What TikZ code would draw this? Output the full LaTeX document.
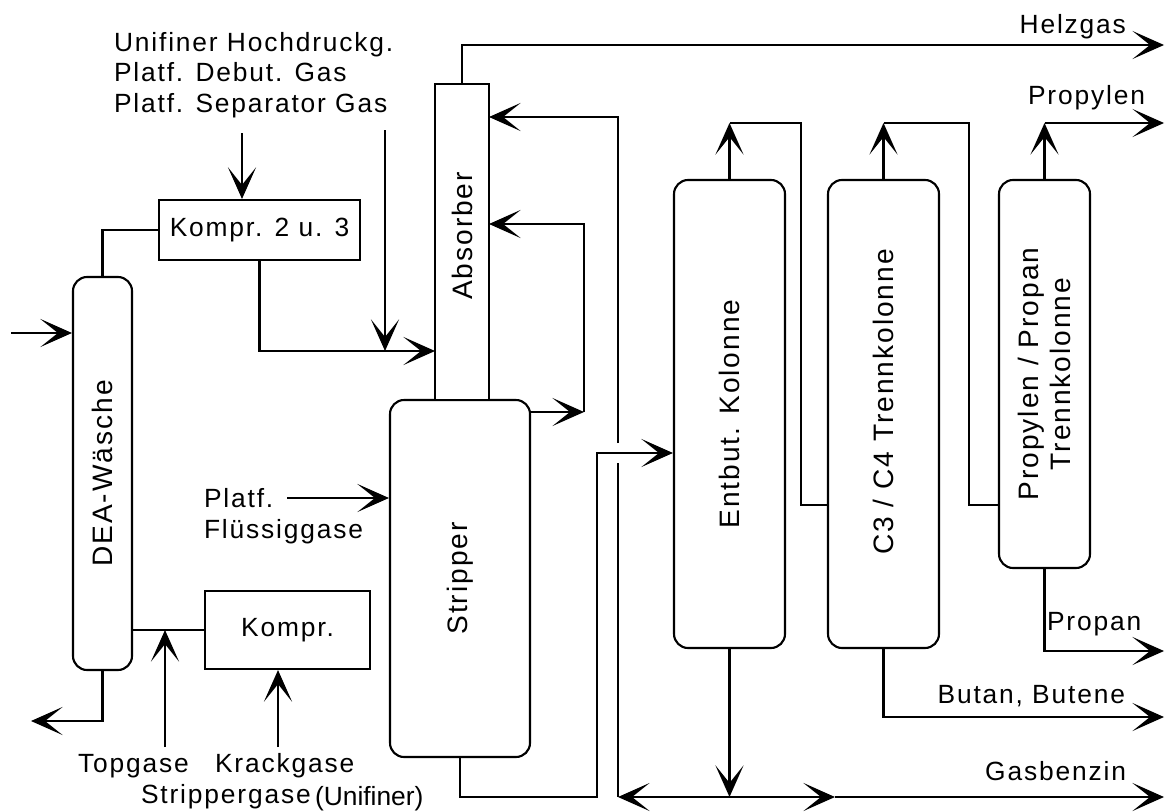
\documentclass[tikz,border=0pt]{standalone}
\usepackage{fontspec}
\setmainfont{Liberation Sans}[LetterSpace=7]
\newfontfamily\plainsans{Liberation Sans}
\usetikzlibrary{arrows.meta}

\begin{document}
\begin{tikzpicture}[x=0.02cm,y=-0.02cm,line width=1.2pt,
  >={Stealth[length=18pt,width=16pt,inset=10pt]},
  column/.style={draw,rounded corners=8pt,inner sep=0pt},
  kbox/.style={draw,inner sep=0pt,font=\fontsize{15}{17}\selectfont},
  lbl/.style={inner sep=0pt,font=\fontsize{15}{17.5}\selectfont},
  collbl/.style={inner sep=0pt,rotate=90,align=center,font=\fontsize{16}{18}\selectfont}]
 \def\px{0.02cm} % ein Bildpunkt
 \def\xr{1164}   % rechter Rand der Abgaenge
 \useasboundingbox (0,0) rectangle (1169,811);
% Apparate
 \node[column,minimum width=59*\px,minimum height=393*\px] (dea) at (102.5,473.5) {};
 \node[kbox,minimum width=201*\px,minimum height=60*\px] (k2) at (259.5,230) {Kompr. 2 u. 3};
 \node[kbox,minimum width=165*\px,minimum height=78*\px] (kp) at (287.5,630) {Kompr.};
 \node[column,minimum width=140*\px,minimum height=357*\px] (str) at (460,578.5) {};
 \node[draw,inner sep=0pt,fill=white,minimum width=54*\px,minimum height=316*\px] (abs) at (462,242) {};
 \node[column,minimum width=111*\px,minimum height=468*\px] (ent) at (729.5,414) {};
 \node[column,minimum width=111*\px,minimum height=468*\px] (c34) at (883.5,414) {};
 \node[column,minimum width=91*\px,minimum height=388*\px] (pp) at (1044.5,374) {};
 \node[collbl] (deaL) at (dea) {DEA-Wäsche};
 \node[collbl] (absL) at (462,236) {Absorber};
 \node[collbl] (strL) at (str) {Stripper};
 \node[collbl] (entL) at (ent) {Entbut. Kolonne};
 \node[collbl] (c34L) at (883.5,402) {C3 / C4 Trennkolonne};
 \node[collbl] (ppL) at (pp) {Propylen / Propan\\Trennkolonne};
% Beschriftungen
 \node[lbl,anchor=west,align=left] (gasL) at (113,75) {Unifiner Hochdruckg.\\Platf. Debut. Gas\\Platf. Separator Gas};
 \node[lbl,anchor=base east] (helzL) at (1127,34) {Helzgas};
 \node[lbl,anchor=base west] (propL) at (1027,105) {Propylen};
 \node[lbl,anchor=base west] (propanL) at (1046,630) {Propan};
 \node[lbl,anchor=base east] (butL) at (1126,703) {Butan, Butene};
 \node[lbl,anchor=base east] (gbL) at (1127,780) {Gasbenzin};
 \node[lbl,anchor=base west] (topL) at (77,772) {Topgase};
 \node[lbl,anchor=base west] (krackL) at (214,772) {Krackgase};
 \node[lbl,anchor=base west] (stripL) at (140,803) {Strippergase};
 \node[lbl,anchor=base west,font={\plainsans\fontsize{15}{17}\selectfont}] (unifL) at (314,805) {(Unifiner)};
 \node[lbl,anchor=base west] (platfL) at (203,507) {Platf.};
 \node[lbl,anchor=base west] (fluesL) at (203,538) {Flüssiggase};
% Gasseite
 \coordinate (feed) at (11,333);
 \coordinate (gasin) at (242,133);
 \coordinate (sepin) at (385,130);
 \coordinate (absin) at (435,351);
 \draw[->] (feed) -- (feed -| dea.west);
 \draw (dea.north) |- (k2.west);
 \draw[->] (gasin) -- (gasin |- k2.north);
 \draw[->] (k2.south) |- (absin);
 \draw[->] (sepin) -- (sepin |- absin);
 \coordinate (deaout) at (31,721);
 \coordinate (topg) at (165,747);
 \coordinate (krack) at (278,747);
 \coordinate (platf) at (287,498);
 \draw[->] (dea.south) |- (deaout);
 \draw (kp.west) -- (kp.west -| dea.east);
 \draw[->] (topg) -- (topg |- kp.west);
 \draw[->] (krack) -- (krack |- kp.south);
 \draw[->] (platf) -- (platf -| str.west);
% Absorber / Stripper
 \coordinate (helz) at (\xr,45);
 \coordinate (strout) at (530,412);
 \coordinate (ret) at (584,412);
 \coordinate (absB) at (489,224);
 \coordinate (absA) at (489,117);
 \draw[->] (abs.north) |- (helz);
 \draw[->] (strout) -- (ret);
 \draw[->] (ret) |- (absB);
% Einsatz Entbutanisierer
 \coordinate (fc) at (597,797);
 \coordinate (fd) at (597,453);
 \draw[->] (str.south) |- (fc) -- (fd) -- (fd -| ent.west);
% Gasbenzin und Rueckfuehrung
 \coordinate (gj) at (729.5,797);
 \coordinate (gl) at (618,797);
 \coordinate (gm) at (835,797);
 \coordinate (gout) at (\xr,797);
 \coordinate (gapA) at (618,463);
 \coordinate (gapB) at (618,443);
 \draw[->] (ent.south) -- (gj);
 \draw[->] (gj) -- (gl);
 \draw[->] (gj) -- (gm);
 \draw[->] (gm) -- (gout);
 \draw (gl) -- (gapA);
 \draw[->] (gapB) |- (absA);
% Kolonnenkopf und -sumpf
 \coordinate (eu) at (729.5,123);
 \coordinate (er) at (801,123);
 \coordinate (ci) at (828,505);
 \coordinate (cu) at (883.5,123);
 \coordinate (cr) at (969,123);
 \coordinate (ppin) at (999,505);
 \coordinate (pu) at (1044.5,123);
 \coordinate (propout) at (\xr,123);
 \coordinate (propan) at (\xr,651);
 \coordinate (butan) at (\xr,717);
 \draw[->] (ent.north) -- (eu);
 \draw (eu) -- (er) |- (ci);
 \draw[->] (c34.north) -- (cu);
 \draw (cu) -- (cr) |- (ppin);
 \draw[->] (pp.north) -- (pu);
 \draw[->] (pu) -- (propout);
 \draw[->] (pp.south) |- (propan);
 \draw[->] (c34.south) |- (butan);
\end{tikzpicture}
\end{document}
